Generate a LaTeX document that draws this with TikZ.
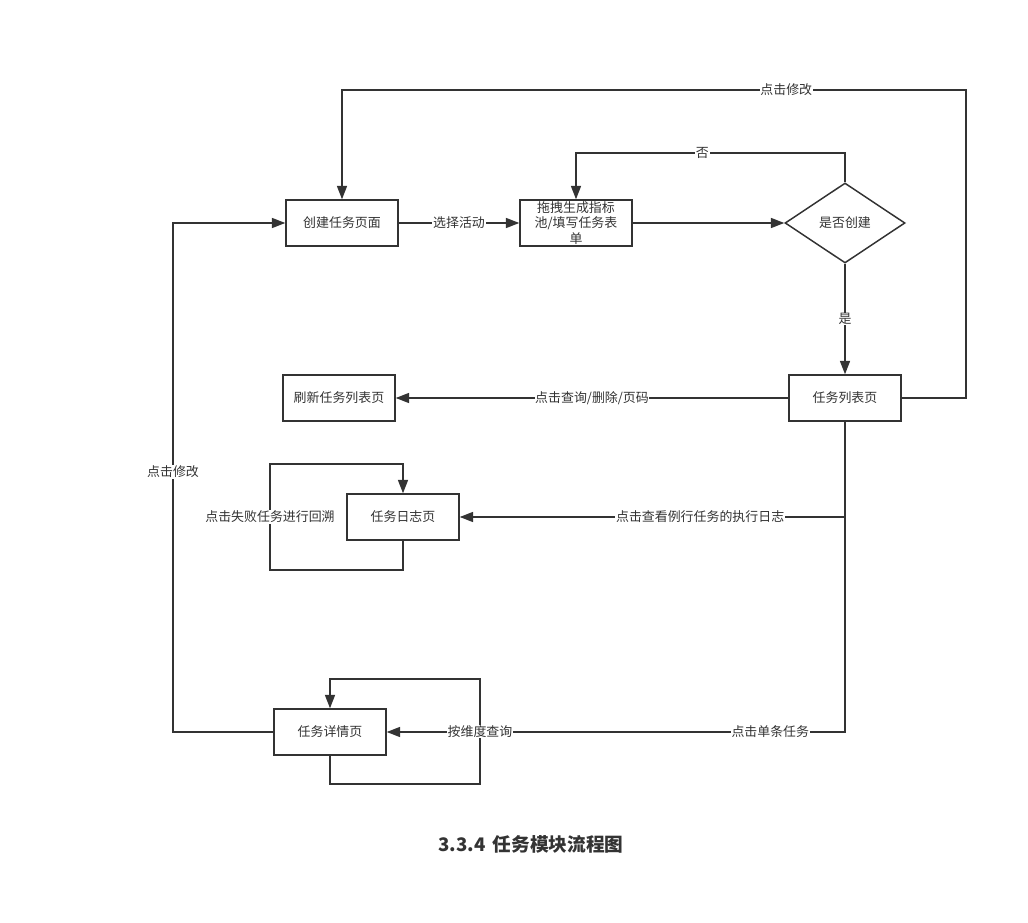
\documentclass[tikz,border=0pt]{standalone}
\usepackage{fontspec}
\setmainfont{Noto Sans CJK SC}
\usetikzlibrary{arrows.meta,shapes.geometric}
\definecolor{ink}{HTML}{333333}
\tikzset{
  box/.style={draw=ink, line width=1.1pt, fill=white, minimum width=84pt, minimum height=34.5pt, inner sep=1pt, align=center, text=ink, font=\fontsize{9.7}{11.5}\selectfont},
  decide/.style={draw=ink, line width=1.1pt, fill=white, diamond, aspect=1.5, minimum width=90pt, minimum height=60pt, inner sep=0pt, text=ink, font=\fontsize{9.7}{11.5}\selectfont},
  link/.style={draw=ink, line width=1.1pt},
  arr/.style={link, -{Triangle[length=10pt,width=7.5pt]}},
  lbl/.style={fill=white, text=ink, inner sep=0.5pt, font=\fontsize{9.7}{11.5}\selectfont},
}
\begin{document}
\begin{tikzpicture}[x=0.75pt,y=-0.75pt]
\useasboundingbox (0,0) rectangle (1028,923);
\fill[white] (0,0) rectangle (1028,923);

\node[box] (create) at (342,223) {创建任务页面};
\node[box] (drag) at (576,223) {拖拽生成指标\\池/填写任务表\\单};
\node[decide] (dec) at (845,223) {是否创建};
\node[box] (list) at (845,398) {任务列表页};
\node[box] (refresh) at (339,398) {刷新任务列表页};
\node[box] (log) at (403,517) {任务日志页};
\node[box] (detail) at (330,732) {任务详情页};
\node[text=ink, font=\fontsize{14}{16}\selectfont\bfseries] (title) at (531,844) {3.3.4 \,任务模块流程图};

\draw[arr] (create) -- node[lbl]{选择活动} (drag);
\draw[arr] (drag) -- (dec);
\draw[arr] (dec.north) -- (845,153) -- node[lbl,pos=0.53]{否} (576,153) -- (drag.north);
\draw[arr] (dec.south) -- node[lbl]{是} (list.north);
\draw[arr] (list.east) -- (966,398) -- (966,90) -- node[lbl,pos=0.288]{点击修改} (342,90) -- (create.north);
\draw[arr] (list.west) -- node[lbl]{点击查询/删除/页码} (refresh.east);
\draw[arr] (list.south) -- (845,517) -- node[lbl,pos=0.376]{点击查看例行任务的执行日志} (log.east);
\draw[arr] (list.south) -- (845,732) -- node[lbl,pos=0.163]{点击单条任务} (detail.east);
\draw[arr] (detail.west) -- (173,732) -- node[lbl,pos=0.511]{点击修改} (173,223) -- (create.west);
\draw[arr] (log.south) -- (403,570) -- (270,570) -- node[lbl]{点击失败任务进行回溯} (270,464) -- (403,464) -- (log.north);
\draw[arr] (detail.south) -- (330,784) -- (480,784) -- node[lbl]{按维度查询} (480,679) -- (330,679) -- (detail.north);
\end{tikzpicture}
\end{document}
